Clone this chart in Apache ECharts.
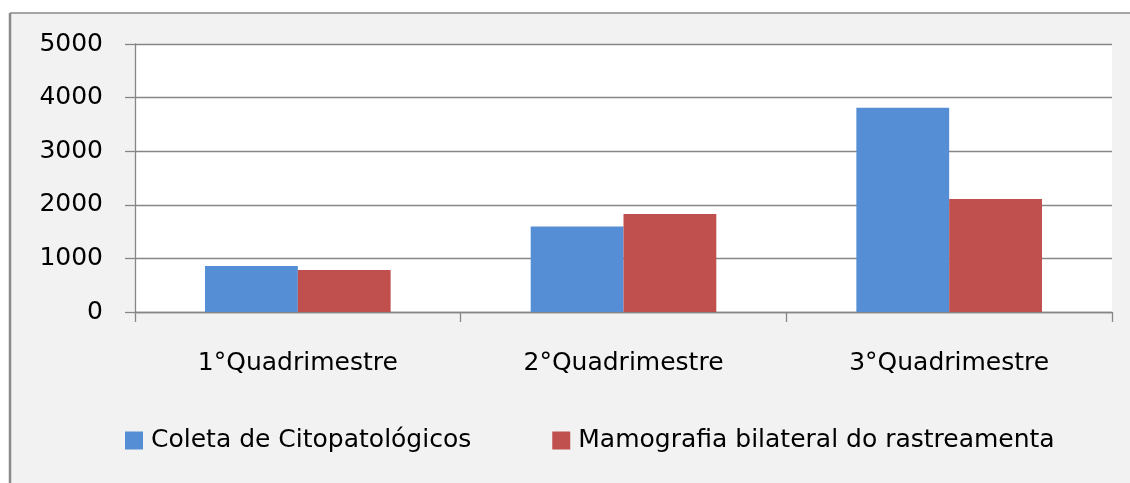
<!DOCTYPE html>
<html>
<head>
<meta charset="utf-8">
<script src="https://cdn.jsdelivr.net/npm/echarts@6/dist/echarts.min.js"></script>
<style>
html,body{margin:0;padding:0;background:#ffffff;}
#chart{width:1130px;height:483px;}
</style>
</head>
<body>
<div id="chart"></div>
<script>
const categories = ['1°Quadrimestre', '2°Quadrimestre', '3°Quadrimestre'];
const seriesNames = ['Coleta de Citopatológicos', 'Mamografia bilateral do rastreamenta'];
const coletaValues = [860, 1595, 3810];
const mamografiaValues = [785, 1830, 2110];
const yTicks = [0, 1000, 2000, 3000, 4000, 5000];

const FONT = 'DejaVu Sans';
const chart = echarts.init(document.getElementById('chart'), null, {renderer: 'canvas'});
chart.setOption({
  animation: false,
  backgroundColor: '#ffffff',
  graphic: [
    {type: 'rect', z: -10, silent: true,
     shape: {x: 10, y: 13, width: 1130, height: 480},
     style: {fill: '#f2f2f2'}},
    {type: 'line', z: -9, silent: true,
     shape: {x1: 10, y1: 13, x2: 1130, y2: 13},
     style: {stroke: '#8a8a8a', lineWidth: 1.5}},
    {type: 'line', z: -9, silent: true,
     shape: {x1: 10, y1: 13, x2: 10, y2: 483},
     style: {stroke: '#8a8a8a', lineWidth: 2.5}}
  ],
  grid: {left: 135, right: 18, top: 44, bottom: 171, show: true, backgroundColor: '#ffffff', borderWidth: 0, containLabel: false},
  legend: {
    left: 120, top: 423,
    itemWidth: 18, itemHeight: 18, itemGap: 81,
    icon: 'rect',
    textStyle: {fontFamily: FONT, fontSize: 25, color: '#000000', padding: [0, 0, 0, 3]},
    data: seriesNames
  },
  xAxis: {
    type: 'category',
    data: categories,
    axisLine: {lineStyle: {color: '#868686', width: 1.3}},
    axisTick: {show: true, length: 10, lineStyle: {color: '#868686', width: 1.3}},
    axisLabel: {fontFamily: FONT, fontSize: 25, color: '#000000', margin: 39}
  },
  yAxis: {
    type: 'value', min: yTicks[0], max: yTicks[yTicks.length - 1], interval: 1000,
    axisLine: {show: true, lineStyle: {color: '#868686', width: 1.3}},
    axisTick: {show: true, length: 10, lineStyle: {color: '#868686', width: 1.3}},
    splitLine: {lineStyle: {color: '#868686', width: 1.3}},
    axisLabel: {fontFamily: FONT, fontSize: 25, color: '#000000', margin: 32,
                formatter: function (v) { return String(v); }}
  },
  series: [
    {name: seriesNames[0], type: 'bar', data: coletaValues, barGap: '0%', barCategoryGap: '43%',
     itemStyle: {color: '#558ed5'}},
    {name: seriesNames[1], type: 'bar', data: mamografiaValues,
     itemStyle: {color: '#c0504d'}}
  ]
});
</script>
</body>
</html>
